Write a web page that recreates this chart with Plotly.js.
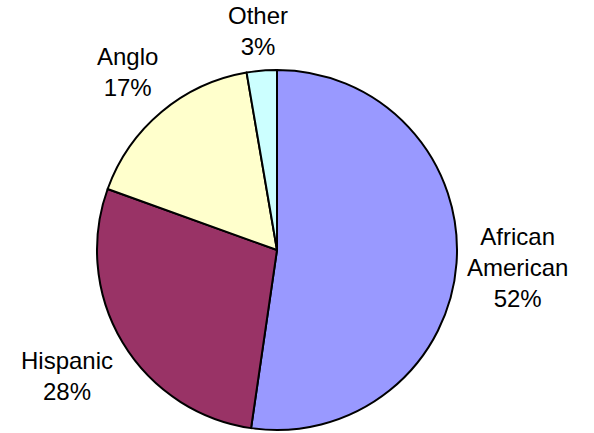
<!DOCTYPE html>
<html>
<head>
<meta charset="utf-8">
<script src="https://cdn.plot.ly/plotly-3.0.1.min.js"></script>
<style>html,body{margin:0;padding:0;background:#fff;}#chart{width:594px;height:433px;}</style>
</head>
<body>
<div id="chart"></div>
<script>
var categories = ["African<br>American", "Hispanic", "Anglo", "Other"];
var shares = [52.3, 28.2, 16.8, 2.7];
var sliceColors = ["#9999FF", "#993366", "#FFFFCC", "#CCFFFF"];

var W = 594, H = 433;
var CX = 277, CY = 250, R = 180;      // pie centre and radius in pixels
var LABEL_DIST = 189.5;               // distance from centre to nearest point of a label box
var FONT = 24, LINE = 30;
var FAM = "Liberation Sans, Arial, sans-serif";

var trace = {
  type: "pie",
  labels: categories,
  values: shares,
  sort: false,
  direction: "clockwise",
  rotation: 0,
  marker: {colors: sliceColors, line: {color: "#000000", width: 2}},
  textinfo: "none",
  hoverinfo: "none",
  automargin: false,
  domain: {x: [(CX - R) / W, (CX + R) / W], y: [1 - (CY + R) / H, 1 - (CY - R) / H]}
};

// labels placed just outside each slice, from the data
var ctx = document.createElement("canvas").getContext("2d");
ctx.font = FONT + "px 'Liberation Sans'";
var total = shares.reduce(function (a, b) { return a + b; }, 0);
var cum = 0;
var annotations = [];
function nearDist(t, dx, dy, hw, hh) {
  var ex = Math.max(0, Math.abs(t * dx) - hw), ey = Math.max(0, Math.abs(t * dy) - hh);
  return Math.sqrt(ex * ex + ey * ey);
}
for (var i = 0; i < shares.length; i++) {
  var mid = (cum + shares[i] / 2) / total * 2 * Math.PI;
  cum += shares[i];
  var dx = Math.sin(mid), dy = -Math.cos(mid);   // dy: screen-down
  var pct = Math.round(shares[i] / total * 100) + "%";
  var lines = categories[i].split("<br>").concat([pct]);
  var w = 0;
  lines.forEach(function (s) { w = Math.max(w, ctx.measureText(s).width); });
  var h = lines.length * LINE;
  var lo = 0, hi = 600;
  for (var k = 0; k < 60; k++) {
    var m = (lo + hi) / 2;
    if (nearDist(m, dx, dy, w / 2, h / 2) < LABEL_DIST) lo = m; else hi = m;
  }
  var bx = CX + dx * lo, by = CY + dy * lo;
  annotations.push({
    xref: "paper", yref: "paper",
    x: bx / W, y: 1 - by / H,
    xanchor: "center", yanchor: "middle",
    text: lines.join("<br>"), showarrow: false, align: "center",
    font: {family: FAM, size: FONT, color: "#000000"}
  });
}

var layout = {
  width: W, height: H,
  margin: {l: 0, r: 0, t: 0, b: 0},
  showlegend: false,
  paper_bgcolor: "#ffffff",
  plot_bgcolor: "#ffffff",
  font: {family: FAM, size: FONT, color: "#000000"},
  annotations: annotations
};
Plotly.newPlot("chart", [trace], layout, {staticPlot: true, displayModeBar: false});
</script>
</body>
</html>
